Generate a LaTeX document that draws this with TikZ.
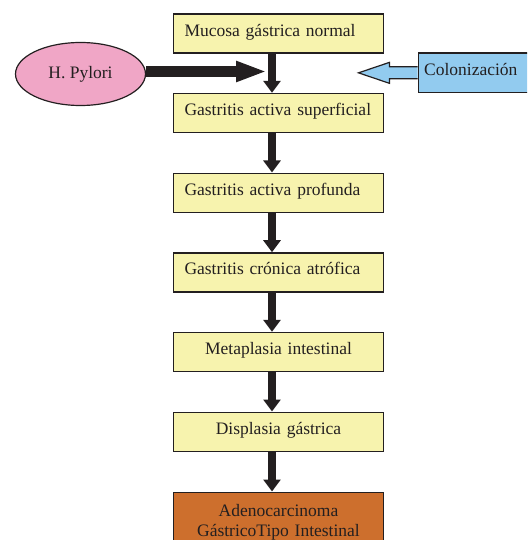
\documentclass[tikz,border=0pt]{standalone}
\usepackage{fontspec}
\setmainfont{Liberation Serif}
\usetikzlibrary{arrows.meta,shapes.geometric}
\definecolor{ink}{HTML}{231F20}
\definecolor{boxyellow}{HTML}{F7F3AE}
\definecolor{boxorange}{HTML}{CD6F2D}
\definecolor{hpink}{HTML}{F0A6C6}
\definecolor{colblue}{HTML}{92CBEF}
\tikzset{
  flowbox/.style={draw=ink, line width=1.5pt, fill=boxyellow, rectangle,
    minimum width=210pt, minimum height=39pt, text width=188pt, inner xsep=11pt,
    text height=11pt, text depth=6pt, anchor=north, font=\fontsize{17.5}{20}\selectfont, text=ink},
  leftbox/.style={flowbox, align=left},
  centerbox/.style={flowbox, align=center},
  varrow/.style={draw=ink, line width=7.5pt, -{Triangle[length=12pt,width=17pt]}},
  harrow/.style={draw=ink, line width=10.5pt, -{Triangle[length=31pt,width=19pt]}},
  blockarrow/.style={draw=ink, line width=1.2pt, fill=colblue, line join=miter},
}
\begin{document}
\begin{tikzpicture}[x=1pt,y=-1pt]
\useasboundingbox (0,0) rectangle (527,540);
\clip (0,0) rectangle (527,540);
\node[leftbox] (b1) at (278.5,13.5) {Mucosa gástrica normal};
\node[leftbox] (b2) at (278.5,92.8) {Gastritis activa superficial};
\node[leftbox] (b3) at (278.5,172.5) {Gastritis activa profunda};
\node[leftbox] (b4) at (278.5,252.2) {Gastritis crónica atrófica};
\node[centerbox] (b5) at (278.5,331.8) {Metaplasia intestinal};
\node[centerbox] (b6) at (278.5,411.5) {Displasia gástrica};
\node[flowbox, fill=boxorange, align=center, minimum height=61pt, text height=, text depth=] (b7) at (278.5,491.5) {Adenocarcinoma\\GástricoTipo Intestinal};
\node[ellipse, draw=ink, line width=1.2pt, fill=hpink, minimum width=130pt, minimum height=63pt,
  font=\fontsize{17.5}{20}\selectfont, text=ink] (hp) at (80.5,74) {H. Pylori};
\node[rectangle, draw=ink, line width=1.2pt, fill=colblue, anchor=north west,
  minimum width=120pt, minimum height=39.5pt, inner xsep=6pt, text width=108pt, align=left,
  font=\fontsize{17.5}{20}\selectfont, text=ink, text height=11pt, text depth=6pt] (col) at (417.5,52.5) {Colonización};
\foreach \a/\b in {b1/b2,b2/b3,b3/b4,b4/b5,b5/b6,b6/b7}
  \draw[varrow] ([xshift=-6.5pt]\a.south) -- ([xshift=-6.5pt]\b.north);
\coordinate (hptip) at (267,71.5);
\draw[harrow] (hp.east |- hptip) -- (hptip);
\draw[blockarrow] ([yshift=6pt]col.west) -- ++(-28,0) -- ++(0,-4.5) -- ++(-31,10.5) -- ++(31,10.5) -- ++(0,-4.5) -- ([yshift=-6pt]col.west);
\end{tikzpicture}
\end{document}
